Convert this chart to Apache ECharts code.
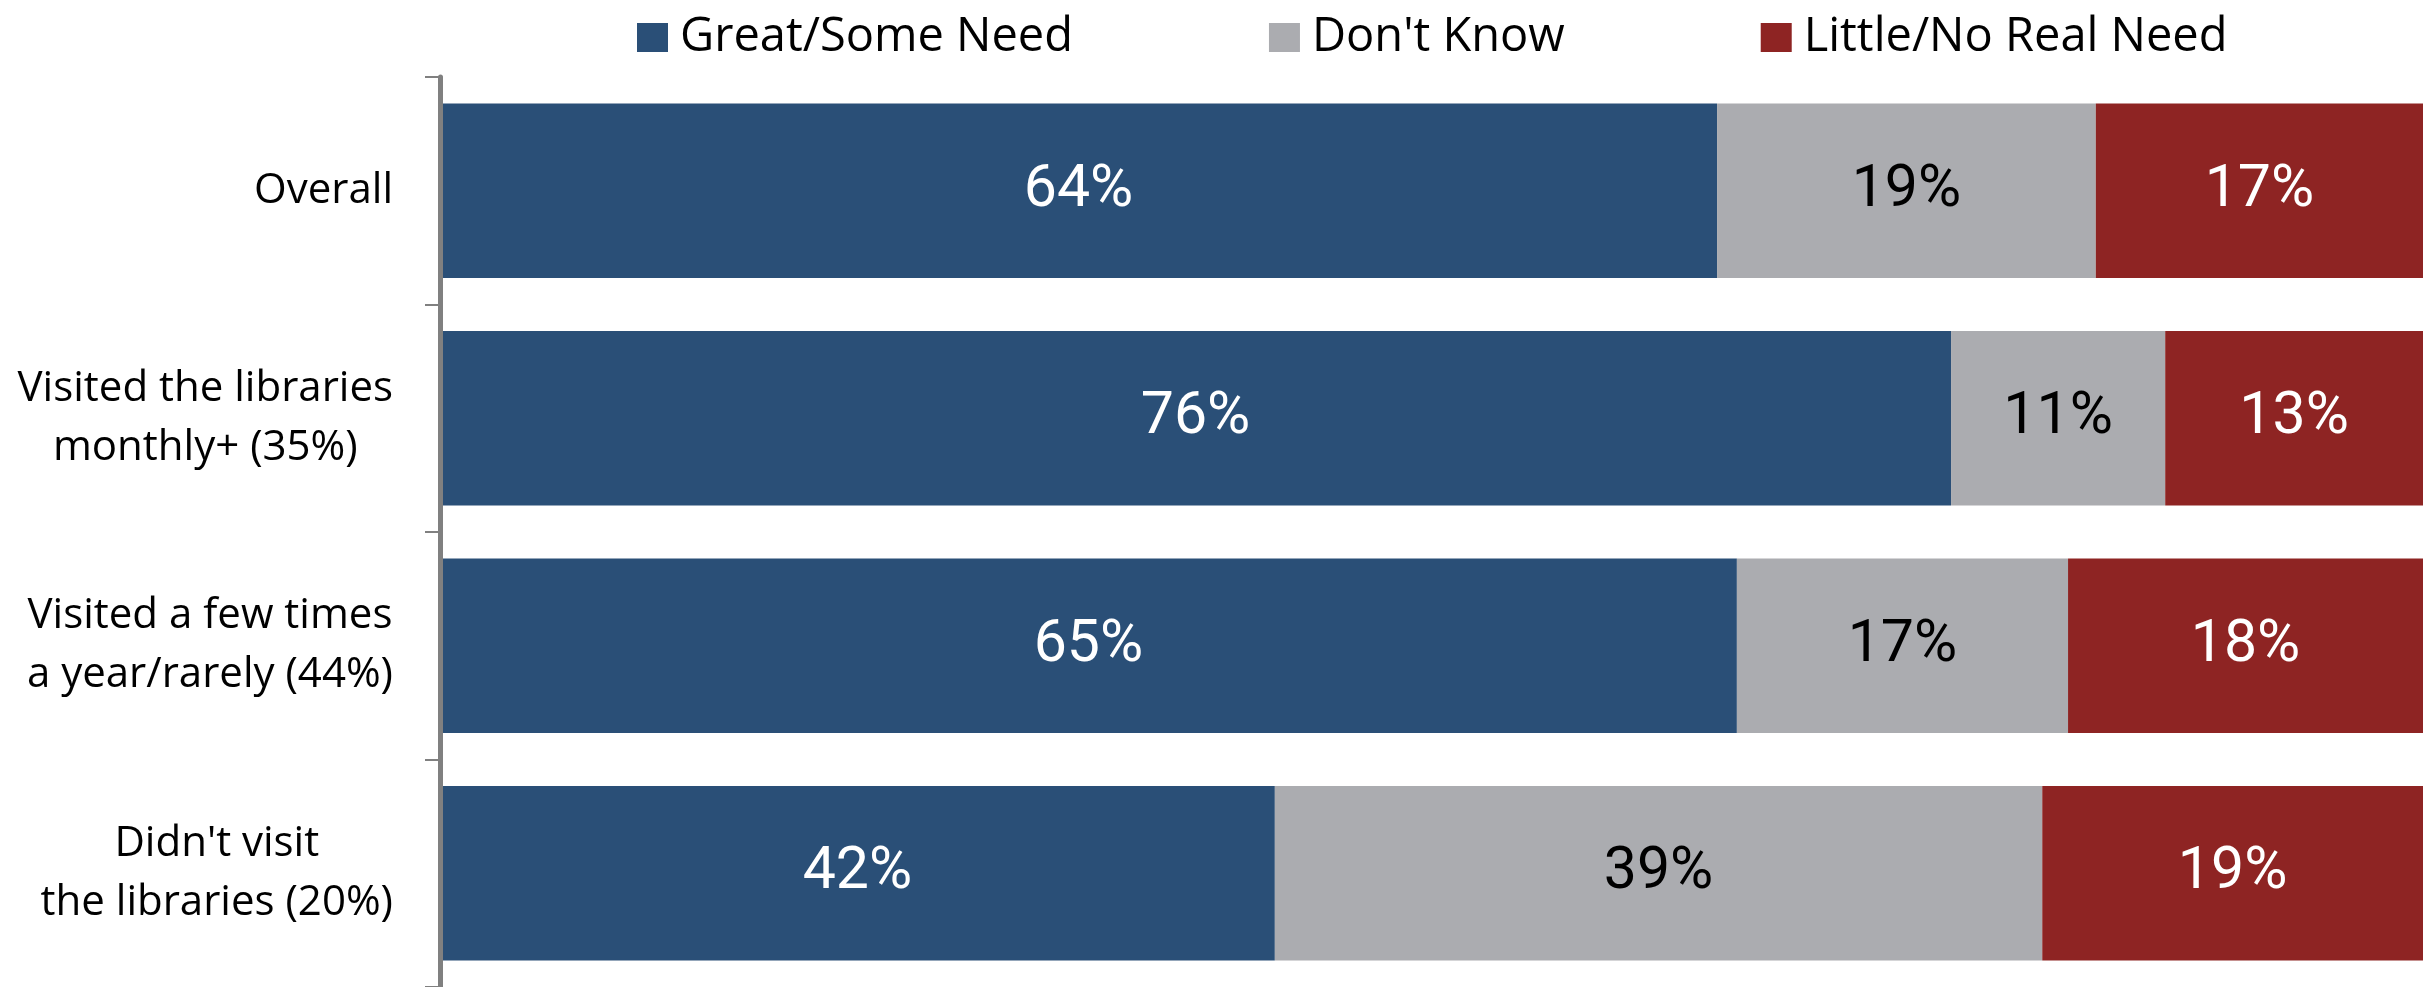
<!DOCTYPE html>
<html>
<head>
<meta charset="utf-8">
<script src="https://cdn.jsdelivr.net/npm/echarts@6/dist/echarts.min.js"></script>
<style>
html,body{margin:0;padding:0;background:#fff;}
#chart{width:2423px;height:987px;}
</style>
</head>
<body>
<div id="chart"></div>
<script>
const categories = [
  "Overall",
  "Visited the libraries\nmonthly+ (35%)",
  "Visited a few times\na year/rarely (44%)",
  "Didn't visit\nthe libraries (20%)"
];
const seriesNames = ["Great/Some Need", "Don't Know", "Little/No Real Need"];
const greatSomeNeed = [64.4, 76.2, 65.4, 42.1];
const dontKnow = [19.1, 10.8, 16.7, 38.7];
const littleNoNeed = [16.5, 13.0, 17.9, 19.2];
const colors = ["#2a4f77", "#abacb0", "#8e2423"];
const labelColors = ["#ffffff", "#000000", "#ffffff"];

const chart = echarts.init(document.getElementById('chart'), null, {renderer: 'canvas'});
const valuesList = [greatSomeNeed, dontKnow, littleNoNeed];

const series = valuesList.map((vals, i) => ({
  name: seriesNames[i],
  type: 'bar',
  stack: 'total',
  barCategoryGap: '23.2%',
  data: vals,
  itemStyle: {color: colors[i]},
  label: {
    show: true,
    position: 'inside',
    color: labelColors[i],
    fontFamily: 'Roboto',
    fontSize: 59,
    formatter: p => Math.round(p.value) + '%'
  }
}));

chart.setOption({
  animation: false,
  backgroundColor: '#ffffff',
  legend: {
    left: 637,
    top: 14,
    padding: 0,
    icon: 'rect',
    itemWidth: 31,
    itemHeight: 29,
    itemGap: 196,
    data: seriesNames,
    textStyle: {
      fontFamily: 'Open Sans',
      fontSize: 47,
      color: '#000',
      padding: [0, 0, 0, 7],
      lineHeight: 29
    }
  },
  grid: {left: 440, right: 0, top: 77, height: 912, containLabel: false},
  xAxis: {
    type: 'value',
    min: 0,
    max: 100,
    show: false
  },
  yAxis: {
    type: 'category',
    inverse: true,
    data: categories,
    axisLine: {show: true, lineStyle: {color: '#808080', width: 5}},
    axisTick: {show: true, length: 15, lineStyle: {color: '#808080', width: 2}},
    axisLabel: {
      margin: 47,
      fontFamily: 'Open Sans',
      fontSize: 42,
      lineHeight: 59,
      color: '#000',
      align: 'right',
      formatter: v => '{c|' + v + '}',
      rich: {
        c: {align: 'center', fontFamily: 'Open Sans', fontSize: 42, lineHeight: 59, color: '#000'}
      }
    },
    z: 3
  },
  series: series
});
</script>
</body>
</html>
